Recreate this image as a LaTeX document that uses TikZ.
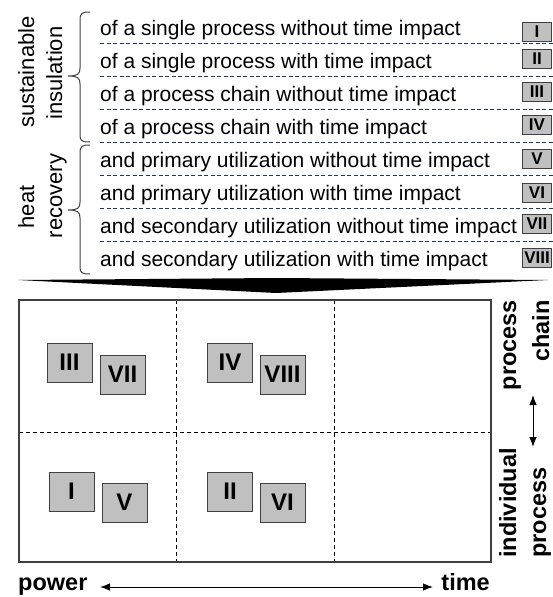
\documentclass[tikz,border=0pt]{standalone}
\usepackage{fontspec}
\setmainfont{Liberation Sans}
\usetikzlibrary{arrows.meta}
\definecolor{navy}{HTML}{1F3864}
\definecolor{boxgray}{HTML}{C0C0C0}
\definecolor{edgegray}{HTML}{404040}
\tikzset{
  rowtext/.style={anchor=base west, inner sep=0pt, font=\fontsize{21}{25}\selectfont},
  sepline/.style={navy, dash pattern=on 4pt off 2.5pt, line width=0.9pt},
  gridline/.style={black, dash pattern=on 4pt off 3pt, line width=1pt},
  tag/.style={draw=edgegray, fill=boxgray, line width=1pt, minimum width=29pt, minimum height=19pt, inner sep=0pt, font=\fontsize{17}{17}\selectfont\bfseries},
  cell/.style={draw=edgegray, fill=boxgray, line width=1pt, minimum width=45pt, minimum height=39pt, inner sep=0pt, font=\fontsize{24}{24}\selectfont\bfseries},
  sidelab/.style={rotate=90, inner sep=0pt, font=\fontsize{22}{22}\selectfont},
  axlab/.style={inner sep=0pt, font=\fontsize{23.5}{24}\selectfont\bfseries},
  bracepath/.style={line width=1pt, edgegray},
  dbl/.style={{Latex[length=10pt,width=7.5pt]}-{Latex[length=10pt,width=7.5pt]}, line width=1pt},
}
\begin{document}
\begin{tikzpicture}[x=1pt,y=-1pt]
\useasboundingbox (0,0) rectangle (553,597);
% separators
\foreach \k in {1,...,7}
  \draw[sepline] (100,{43.5+33*(\k-1)}) -- (553,{43.5+33*(\k-1)});
% rows
\foreach \i/\t in {1/of a single process without time impact,
                   2/of a single process with time impact,
                   3/of a process chain without time impact,
                   4/of a process chain with time impact,
                   5/and primary utilization without time impact,
                   6/and primary utilization with time impact,
                   7/and secondary utilization without time impact,
                   8/and secondary utilization with time impact}
  \node[rowtext] (t\i) at (100,{35+33*(\i-1)}) {\t};
% tags
\node[tag] (b1) at (537,31.5) {I};
\node[tag] (b2) at (537,58.5) {II};
\node[tag] (b3) at (537,92) {III};
\node[tag] (b4) at (537,125) {IV};
\node[tag] (b5) at (537,159) {V};
\node[tag] (b6) at (537,192.5) {VI};
\node[tag] (b7) at (537,224) {VII};
\node[tag] (b8) at (537,257.5) {VIII};
% braces
\draw[bracepath] (90,12) .. controls (82,12) and (80,13) .. (80,20) -- (80,68)
  .. controls (80,74) and (78,76) .. (68,76) .. controls (78,76) and (80,78) .. (80,84)
  -- (80,135) .. controls (80,141) and (82,142) .. (90,142);
\draw[bracepath] (90,145) .. controls (82,145) and (80,146) .. (80,153) -- (80,202)
  .. controls (80,208) and (78,210) .. (68,210) .. controls (78,210) and (80,212) .. (80,218)
  -- (80,267) .. controls (80,273) and (82,274) .. (90,274);
% side labels
\node[sidelab, anchor=base] (s1) at (34,72) {sustainable};
\node[sidelab, anchor=base] (s2) at (62,73) {insulation};
\node[sidelab, anchor=base] (h1) at (34,207) {heat};
\node[sidelab, anchor=base] (h2) at (62,196) {recovery};
% wedge
\fill[black] (18,280) -- (276,278) -- (548,280) -- (276,293) -- cycle;
% grid
\draw[gridline] (176,300) -- (176,562);
\draw[gridline] (334,300) -- (334,562);
\draw[gridline] (19,432) -- (491,432);
\draw[edgegray, line width=1.2pt] (19,300) rectangle (491,562);
% cells
\node[cell] (gIII) at (69.5,362.5) {III};
\node[cell] (gVII) at (122.5,374.5) {VII};
\node[cell] (gIV) at (230,362.5) {IV};
\node[cell] (gVIII) at (282.5,374.5) {VIII};
\node[cell] (gI) at (71.5,491.5) {I};
\node[cell] (gV) at (124.5,502.5) {V};
\node[cell] (gII) at (230,491.5) {II};
\node[cell] (gVI) at (282.5,502.5) {VI};
% axis labels
\node[axlab, anchor=base west] (power) at (18,590) {power};
\node[axlab, anchor=base east] (time) at (490,590) {time};
\coordinate (hl) at (100,587);
\coordinate (hr) at (433,587);
\draw[dbl] (hl) -- (hr);
\node[axlab, rotate=90, anchor=base east] (pc1) at (516,300) {process};
\node[axlab, rotate=90, anchor=base east] (pc2) at (549,300) {chain};
\node[axlab, rotate=90, anchor=base west] (ip1) at (516,558) {individual};
\node[axlab, rotate=90, anchor=base west] (ip2) at (546,558) {process};
\coordinate (vt) at (533,395);
\coordinate (vb) at (533,447);
\draw[dbl] (vt) -- (vb);
\end{tikzpicture}
\end{document}
